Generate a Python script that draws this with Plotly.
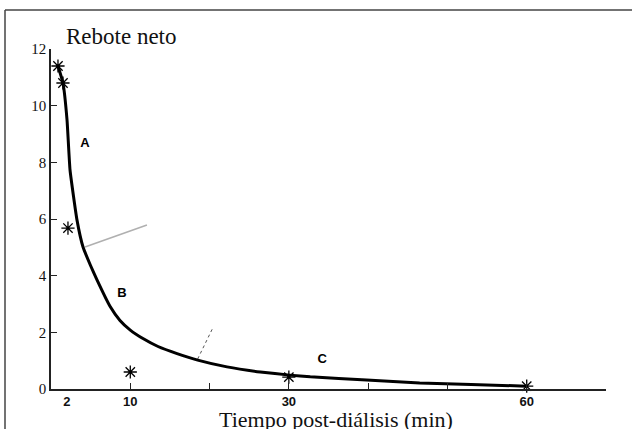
import plotly.graph_objects as go

# Data
curve_t = [0.88, 1.51, 2.02, 2.40, 3.28, 4.04, 5.0, 5.80, 7.44, 8.70, 10.0, 11.6, 13.5, 15.9, 18.5, 22.2, 26.4, 30.1, 32.7, 39.8, 46.5, 53.0, 60.0]
curve_v = [11.4, 10.8, 9.5, 7.73, 5.96, 5.01, 4.35, 3.85, 2.92, 2.42, 2.08, 1.78, 1.50, 1.25, 1.02, 0.78, 0.60, 0.49, 0.43, 0.32, 0.21, 0.16, 0.10]

obs_t = [0.88, 1.51, 2.14, 10, 30, 60]
obs_v = [11.4, 10.8, 5.68, 0.6, 0.42, 0.1]

grey_t = [4.29, 12.1]
grey_v = [5.01, 5.79]
dot_t = [18.5, 20.4]
dot_v = [1.06, 2.15]

phase_labels = ["A", "B", "C"]
phase_t = [4.29, 8.95, 34.2]
phase_v = [8.65, 3.35, 1.02]

x_label_vals = [2, 10, 30, 60]
x_tick_vals = [10, 20, 30, 40, 50, 60, 70]
y_tick_vals = [0, 2, 4, 6, 8, 10, 12]

SERIF = "Liberation Serif, Times New Roman, serif"
SANS = "Liberation Sans, Arial, sans-serif"

fig = go.Figure()
fig.add_trace(go.Scatter(x=grey_t, y=grey_v, mode="lines",
                         line=dict(color="#b0b0b0", width=1.6), hoverinfo="skip"))
fig.add_trace(go.Scatter(x=dot_t, y=dot_v, mode="lines",
                         line=dict(color="#555555", width=1, dash="dot"), hoverinfo="skip"))
fig.add_trace(go.Scatter(x=curve_t, y=curve_v, mode="lines",
                         line=dict(color="black", width=3, shape="spline", smoothing=0.4)))
fig.add_trace(go.Scatter(x=obs_t, y=obs_v, mode="markers", cliponaxis=False,
                         marker=dict(symbol="asterisk-open", size=11, color="black",
                                     line=dict(color="black", width=1.3))))
fig.add_trace(go.Scatter(x=phase_t, y=phase_v, mode="text", text=phase_labels,
                         textfont=dict(family=SANS, size=13, color="black", weight="bold"),
                         textposition="middle center"))
# invisible trace on the label axis
fig.add_trace(go.Scatter(x=[0, 70], y=[0, 0], xaxis="x2", mode="markers",
                         marker=dict(opacity=0), hoverinfo="skip"))

fig.update_layout(
    width=632, height=429,
    margin=dict(l=51, r=26, t=49, b=40),
    paper_bgcolor="white", plot_bgcolor="white",
    showlegend=False,
    title=dict(text="Rebote neto", x=66/632, xanchor="left", y=1-36/429, yanchor="middle",
               font=dict(family=SERIF, size=23, color="#111")),
    xaxis=dict(range=[0, 70], tickvals=x_tick_vals, showticklabels=False,
               ticks="inside", ticklen=6, tickcolor="#222", tickwidth=1.2,
               showline=True, linecolor="#222", linewidth=1.5,
               showgrid=False, zeroline=False),
    xaxis2=dict(range=[0, 70], overlaying="x", side="bottom", tickvals=x_label_vals,
                ticktext=[str(v) for v in x_label_vals], ticks="", showline=False,
                showgrid=False, zeroline=False, ticklabelstandoff=3,
                tickfont=dict(family=SANS, size=13, color="#111", weight="bold")),
    yaxis=dict(range=[0, 12], tickvals=y_tick_vals, ticks="inside", ticklen=6,
               tickcolor="#222", tickwidth=1.2,
               showline=True, linecolor="#222", linewidth=1.5,
               showgrid=False, zeroline=False,
               tickfont=dict(family=SERIF, size=15, color="#111")),
    annotations=[dict(text="Tiempo post-diálisis (min)", xref="paper", yref="paper",
                      x=(336-51)/555, y=(389-420)/340, xanchor="center", yanchor="middle",
                      showarrow=False, font=dict(family=SERIF, size=22, color="#111"))],
    shapes=[
        dict(type="line", xref="paper", yref="paper", x0=(5-51)/555, x1=(632-51)/555,
             y0=(389-10)/340, y1=(389-10)/340, line=dict(color="#444", width=1.5)),
        dict(type="line", xref="paper", yref="paper", x0=(5-51)/555, x1=(5-51)/555,
             y0=(389-10)/340, y1=(389-429)/340, line=dict(color="#444", width=1.5)),
    ],
)

fig.write_html("out.html", config={"displayModeBar": False},
               post_script="document.body.style.margin='0';document.body.style.overflow='hidden';")
